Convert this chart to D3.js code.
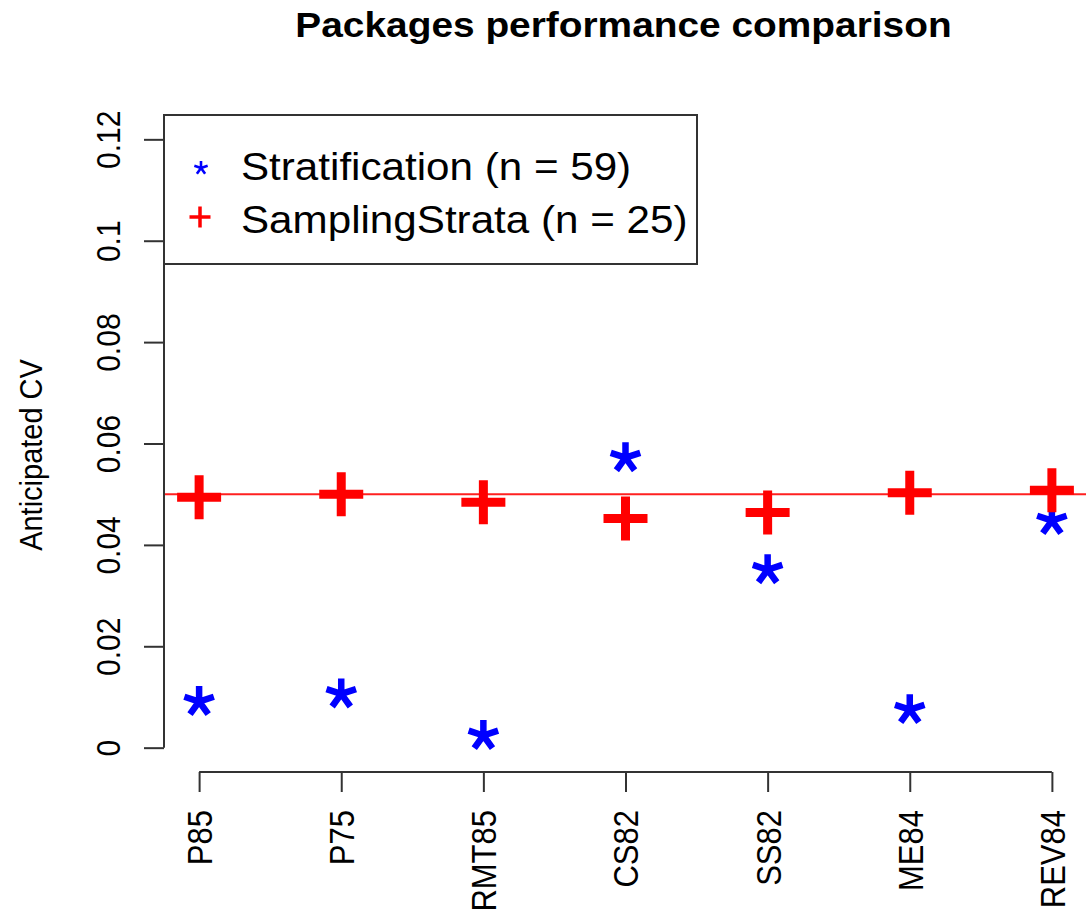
<!DOCTYPE html>
<html>
<head>
<meta charset="utf-8">
<script src="https://cdn.jsdelivr.net/npm/d3@7"></script>
<style>
  html, body { margin: 0; padding: 0; background: #fff; }
  svg { display: block; font-family: "Liberation Sans", Arial, sans-serif; }
</style>
</head>
<body>
<div id="chart"></div>
<script>
// Valores
const categories = ["P85", "P75", "RMT85", "CS82", "SS82", "ME84", "REV84"];
const stratification = [0.0091, 0.0106, 0.0024, 0.0572, 0.0351, 0.0075, 0.0448];
const samplingStrata = [0.0494, 0.0500, 0.0484, 0.0452, 0.0464, 0.0503, 0.0508];
const yTicks = [0, 0.02, 0.04, 0.06, 0.08, 0.1, 0.12];
const yTickLabels = ["0", "0.02", "0.04", "0.06", "0.08", "0.1", "0.12"];
const targetCV = 0.05;
const legendLabels = ["Stratification (n = 59)", "SamplingStrata (n = 25)"];

const width = 1087, height = 913;
const plot = { left: 165, right: 1086, top: 115, bottom: 772 };
const SX = 1.11; // a imagem original está esticada na horizontal
const axisColor = "#333";

const svg = d3.select("#chart").append("svg")
  .attr("width", width)
  .attr("height", height);

// Escalas (estilo R: 4% de folga em cada lado)
const x = d3.scaleLinear().domain([0.76, 7.24]).range([plot.left, plot.right]);
const y = d3.scaleLinear().domain([-0.0048, 0.1248]).range([plot.bottom, plot.top]);

// asterisco de 5 braços
function starPath(L) {
  let d = "";
  for (let k = 0; k < 5; k++) {
    const a = k * 72 * Math.PI / 180;
    d += `M0,0L${(L * Math.sin(a)).toFixed(2)},${(-L * Math.cos(a)).toFixed(2)}`;
  }
  return d;
}
function plusPath(h) {
  return `M${-h},0H${h}M0,${-h}V${h}`;
}

// Título
svg.append("text")
  .attr("transform", `translate(${(plot.left + plot.right) / 2 - 2},37) scale(${SX},1)`)
  .attr("text-anchor", "middle")
  .attr("font-weight", "bold")
  .attr("font-size", "35px")
  .attr("fill", "#000")
  .text("Packages performance comparison");

// Eixo Y
const yAxis = svg.append("g")
  .attr("transform", `translate(${plot.left - 1},0)`)
  .call(d3.axisLeft(y).tickValues(yTicks).tickFormat((d, i) => yTickLabels[i]).tickSize(20).tickSizeOuter(0));
yAxis.select(".domain").remove();
yAxis.selectAll(".tick line").attr("stroke", axisColor).attr("stroke-width", 2);
yAxis.selectAll(".tick text")
  .attr("x", null).attr("dy", null)
  .attr("transform", `translate(-44,0) scale(${SX},1) rotate(-90)`)
  .attr("text-anchor", "middle")
  .attr("font-size", "30px")
  .attr("font-family", "Liberation Sans, Arial, sans-serif")
  .attr("fill", "#000");
yAxis.append("line")
  .attr("x1", 0).attr("x2", 0)
  .attr("y1", y(yTicks[0])).attr("y2", y(yTicks[yTicks.length - 1]))
  .attr("stroke", axisColor).attr("stroke-width", 2);

// Eixo X
const xAxis = svg.append("g")
  .attr("transform", `translate(0,${plot.bottom})`)
  .call(d3.axisBottom(x).tickValues(categories.map((c, i) => i + 1)).tickFormat(d => categories[d - 1]).tickSize(20).tickSizeOuter(0));
xAxis.select(".domain").remove();
xAxis.selectAll(".tick line").attr("stroke", axisColor).attr("stroke-width", 2);
xAxis.selectAll(".tick text")
  .attr("y", null).attr("dy", "0.36em")
  .attr("transform", `translate(0,38) scale(${SX},1) rotate(-90)`)
  .attr("text-anchor", "end")
  .attr("font-size", "31px")
  .attr("font-family", "Liberation Sans, Arial, sans-serif")
  .attr("fill", "#000");
xAxis.append("line")
  .attr("x1", x(1)).attr("x2", x(categories.length))
  .attr("y1", 0).attr("y2", 0)
  .attr("stroke", axisColor).attr("stroke-width", 2);

// Rótulo do eixo Y
svg.append("text")
  .attr("transform", `translate(42,455) scale(${SX},1) rotate(-90)`)
  .attr("text-anchor", "middle")
  .attr("font-size", "29px")
  .attr("fill", "#000")
  .text("Anticipated CV");

// Linha de referência
svg.append("line")
  .attr("x1", plot.left).attr("x2", plot.right)
  .attr("y1", y(targetCV)).attr("y2", y(targetCV))
  .attr("stroke", "#ff2020").attr("stroke-width", 2);

// Pontos: Stratification (asteriscos azuis)
svg.selectAll(".star")
  .data(stratification)
  .enter()
  .append("path")
  .attr("class", "star")
  .attr("transform", (d, i) => `translate(${x(i + 1)},${y(d)})`)
  .attr("d", starPath(15.5))
  .attr("fill", "none")
  .attr("stroke", "#0000ff")
  .attr("stroke-width", 6.5);

// Pontos: SamplingStrata (cruzes vermelhas)
svg.selectAll(".plus")
  .data(samplingStrata)
  .enter()
  .append("path")
  .attr("class", "plus")
  .attr("transform", (d, i) => `translate(${x(i + 1)},${y(d)})`)
  .attr("d", plusPath(22))
  .attr("fill", "none")
  .attr("stroke", "#ff0000")
  .attr("stroke-width", 9);

// Legenda
const legend = svg.append("g");
legend.append("rect")
  .attr("x", plot.left - 1).attr("y", plot.top)
  .attr("width", 533).attr("height", 149)
  .attr("fill", "#fff")
  .attr("stroke", axisColor).attr("stroke-width", 2);

legend.append("path")
  .attr("transform", "translate(201,168)")
  .attr("d", starPath(7))
  .attr("fill", "none")
  .attr("stroke", "#0000ff")
  .attr("stroke-width", 2.6);
legend.append("path")
  .attr("transform", "translate(200,217)")
  .attr("d", plusPath(10.5))
  .attr("fill", "none")
  .attr("stroke", "#ff0000")
  .attr("stroke-width", 3.5);

legendLabels.forEach((label, i) => {
  legend.append("text")
    .attr("transform", `translate(241,${180 + i * 53}) scale(${SX},1)`)
    .attr("font-size", "38px")
    .attr("fill", "#000")
    .text(label);
});
</script>
</body>
</html>
